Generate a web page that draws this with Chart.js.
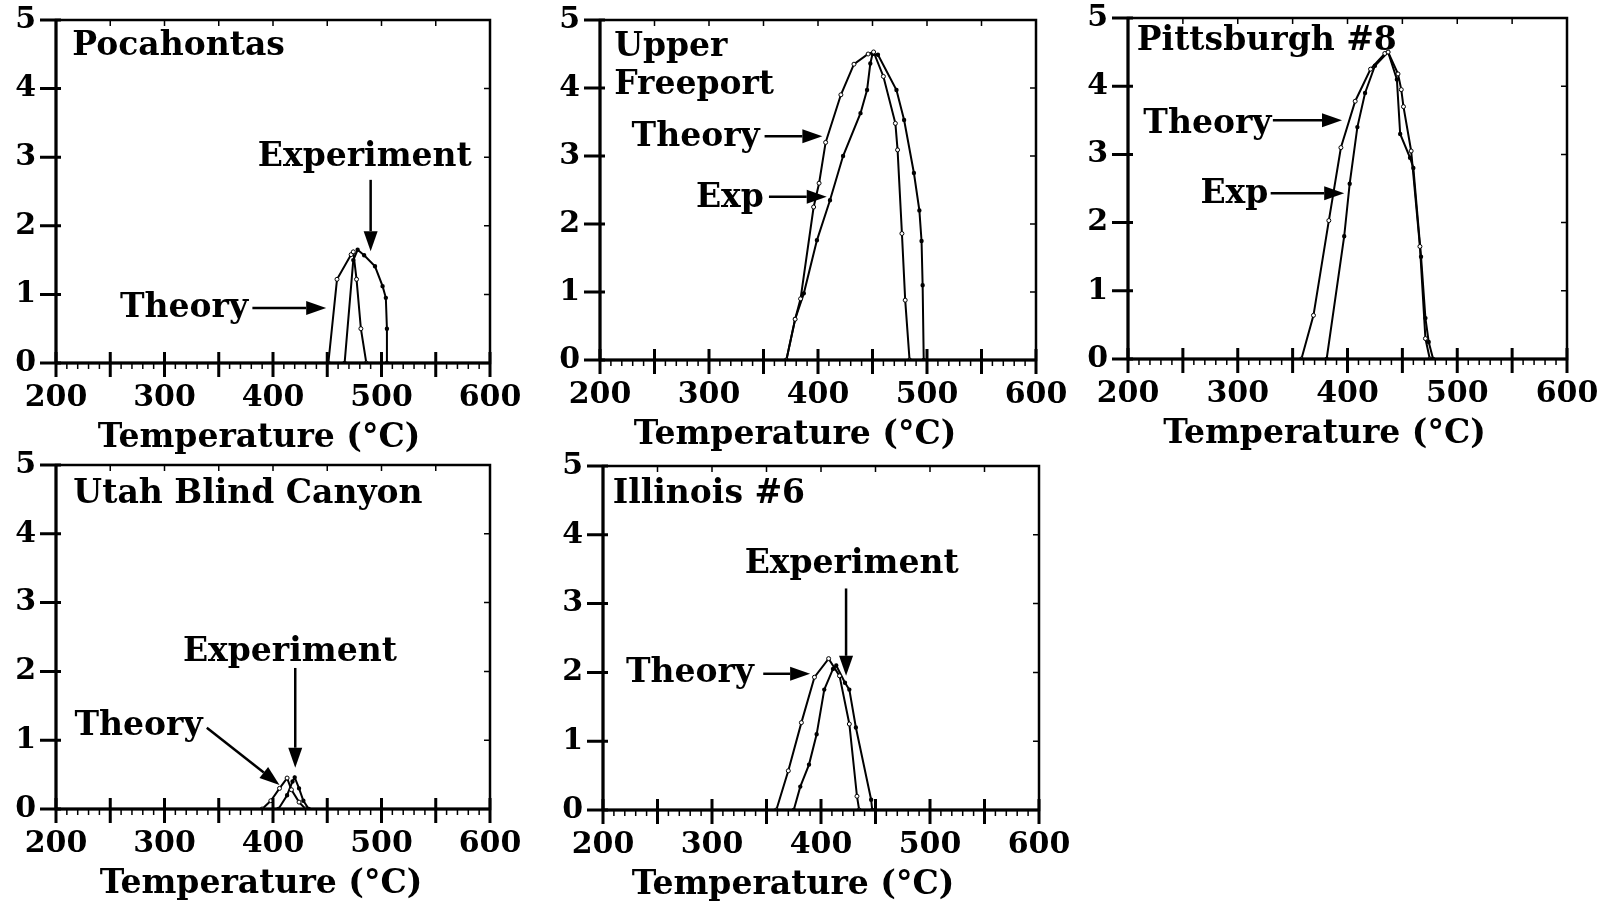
<!DOCTYPE html>
<html>
<head>
<meta charset="utf-8">
<script src="https://cdn.jsdelivr.net/npm/chart.js@4.4.1/dist/chart.umd.min.js"></script>
<style>
  body { margin: 0; background: #fff; width: 1604px; height: 908px; overflow: hidden; position: relative; }
  canvas { position: absolute; }
</style>
</head>
<body>
<script>
var xTickLabels = [200, 300, 400, 500, 600];
var yTickLabels = [0, 1, 2, 3, 4, 5];
var xTitle = 'Temperature (°C)';

// Pocahontas
var pocaTheoryT = [451, 459, 472, 474, 477, 481, 486];
var pocaTheoryY = [0, 1.22, 1.58, 1.62, 1.22, 0.5, 0];
var pocaExpT = [466, 474, 478, 484, 494, 501, 504, 505, 505];
var pocaExpY = [0, 1.5, 1.65, 1.57, 1.41, 1.12, 0.95, 0.5, 0];

// Upper Freeport
var ufTheoryT = [371, 379, 384, 396, 401, 407, 421, 433, 446, 451, 460, 471, 473, 477, 480, 484];
var ufTheoryY = [0, 0.6, 0.9, 2.25, 2.6, 3.2, 3.9, 4.35, 4.5, 4.53, 4.17, 3.48, 3.09, 1.86, 0.88, 0];
var ufExpT = [371, 379, 387, 399, 411, 423, 439, 445, 448, 450, 455, 472, 479, 488, 493, 495, 496, 497];
var ufExpY = [0, 0.6, 0.98, 1.76, 2.35, 3.0, 3.63, 3.97, 4.36, 4.5, 4.49, 3.97, 3.53, 2.75, 2.2, 1.75, 1.1, 0];

// Pittsburgh #8
var pittTheoryT = [358, 369, 383, 394, 407, 421, 434, 437, 446, 449, 451, 458, 466, 471, 475];
var pittTheoryY = [0, 0.64, 2.03, 3.1, 3.78, 4.25, 4.48, 4.5, 4.18, 3.95, 3.7, 3.05, 1.65, 0.3, 0];
var pittExpT = [381, 397, 402, 409, 416, 425, 437, 445, 448, 457, 460, 467, 471, 474, 478];
var pittExpY = [0, 1.8, 2.57, 3.4, 3.9, 4.3, 4.5, 4.1, 3.3, 2.95, 2.8, 1.5, 0.6, 0.25, 0];

// Utah Blind Canyon
var utahTheoryT = [390, 398, 406, 413, 417, 424, 430];
var utahTheoryY = [0, 0.12, 0.3, 0.45, 0.28, 0.1, 0];
var utahExpT = [405, 413, 418, 420, 424, 428, 433];
var utahExpY = [0, 0.2, 0.4, 0.46, 0.3, 0.12, 0];

// Illinois #6
var illTheoryT = [359, 370, 382, 394, 407, 417, 426, 433, 435];
var illTheoryY = [0, 0.57, 1.27, 1.93, 2.2, 1.95, 1.25, 0.2, 0];
var illExpT = [375, 381, 389, 396, 403, 411, 414, 422, 426, 432, 446, 447];
var illExpY = [0, 0.34, 0.66, 1.1, 1.75, 2.05, 2.1, 1.85, 1.75, 1.2, 0.15, 0];

function pts(t, v) {
  return t.map(function (x, i) { return { x: x, y: v[i] }; });
}

var panels = [
  { left: 56, top: 20, w: 434, h: 343, titleShift: -14, theory: pts(pocaTheoryT, pocaTheoryY), exp: pts(pocaExpT, pocaExpY),
    labels: [{ text: 'Pocahontas', x: 215, y: 4.62 }, { text: 'Experiment', x: 386, y: 3.0 }, { text: 'Theory', x: 259, y: 0.8 }],
    arrows: [[490, 2.67, 490, 1.63], [381, 0.8, 449, 0.8]] },
  { left: 600, top: 20, w: 436, h: 340, titleShift: -23, theory: pts(ufTheoryT, ufTheoryY), exp: pts(ufExpT, ufExpY),
    labels: [{ text: 'Upper', x: 213, y: 4.6 }, { text: 'Freeport', x: 213, y: 4.04 }, { text: 'Theory', x: 229, y: 3.27 }, { text: 'Exp', x: 288, y: 2.37 }],
    arrows: [[351, 3.29, 404, 3.29], [355, 2.4, 408, 2.4]] },
  { left: 1128, top: 18, w: 439, h: 341, titleShift: -23, theory: pts(pittTheoryT, pittTheoryY), exp: pts(pittExpT, pittExpY),
    labels: [{ text: 'Pittsburgh #8', x: 208, y: 4.66 }, { text: 'Theory', x: 214, y: 3.44 }, { text: 'Exp', x: 266, y: 2.41 }],
    arrows: [[332, 3.5, 395, 3.5], [330, 2.43, 397, 2.43]] },
  { left: 56, top: 465, w: 434, h: 344, titleShift: -12, theory: pts(utahTheoryT, utahTheoryY), exp: pts(utahExpT, utahExpY),
    labels: [{ text: 'Utah Blind Canyon', x: 216, y: 4.57 }, { text: 'Experiment', x: 317, y: 2.28 }, { text: 'Theory', x: 217, y: 1.2 }],
    arrows: [[420.5, 2.05, 420.5, 0.6], [339, 1.18, 406, 0.35]] },
  { left: 603, top: 466, w: 436, h: 344, titleShift: -28, theory: pts(illTheoryT, illTheoryY), exp: pts(illExpT, illExpY),
    labels: [{ text: 'Illinois #6', x: 209, y: 4.58 }, { text: 'Experiment', x: 330, y: 3.57 }, { text: 'Theory', x: 221, y: 1.98 }],
    arrows: [[423, 3.22, 423, 1.95], [347, 1.98, 390, 1.98]] }
];

var PAD_L = 60, PAD_T = 22, PAD_R = 45, PAD_B = 100;
var serif = '"DejaVu Serif", serif';

// box, tick marks on every side, x axis title
var framePlugin = {
  id: 'frame',
  afterDatasetsDraw: function (chart, args, opts) {
    var ctx = chart.ctx, a = chart.chartArea, xs = chart.scales.x, ys = chart.scales.y;
    var v, px;
    ctx.save();
    ctx.strokeStyle = '#000';
    ctx.lineWidth = 2.5;
    ctx.strokeRect(a.left, a.top, a.right - a.left, a.bottom - a.top);
    ctx.lineWidth = 3;
    ctx.beginPath();
    ctx.moveTo(a.left, a.top); ctx.lineTo(a.left, a.bottom);
    ctx.moveTo(a.left, a.bottom); ctx.lineTo(a.right, a.bottom);
    ctx.stroke();
    ctx.beginPath();
    for (v = 200; v <= 600; v += 50) {
      px = xs.getPixelForValue(v);
      ctx.moveTo(px, a.bottom - 11); ctx.lineTo(px, a.bottom + 14);
    }
    for (v = 0; v <= 5; v++) {
      px = ys.getPixelForValue(v);
      ctx.moveTo(a.left - 16, px); ctx.lineTo(a.left + 5, px);
    }
    ctx.stroke();
    ctx.lineWidth = 1.5;
    ctx.beginPath();
    for (v = 210; v < 600; v += 10) {
      if (v % 50 === 0) continue;
      px = xs.getPixelForValue(v);
      ctx.moveTo(px, a.bottom); ctx.lineTo(px, a.bottom + 6);
    }
    for (v = 250; v < 600; v += 50) {
      px = xs.getPixelForValue(v);
      ctx.moveTo(px, a.top); ctx.lineTo(px, a.top + 6);
    }
    for (v = 1; v < 5; v++) {
      px = ys.getPixelForValue(v);
      ctx.moveTo(a.right - 6, px); ctx.lineTo(a.right, px);
    }
    ctx.stroke();
    ctx.fillStyle = '#000';
    ctx.font = 'bold 33px ' + serif;
    ctx.textAlign = 'center';
    ctx.textBaseline = 'middle';
    ctx.fillText(xTitle, (a.left + a.right) / 2 + (opts.shift || 0), a.bottom + 75);
    ctx.restore();
  }
};

// coal names, curve labels and arrows
var notesPlugin = {
  id: 'notes',
  afterDraw: function (chart, args, opts) {
    var ctx = chart.ctx, xs = chart.scales.x, ys = chart.scales.y;
    ctx.save();
    ctx.fillStyle = '#000';
    ctx.strokeStyle = '#000';
    ctx.font = 'bold 33px ' + serif;
    ctx.textBaseline = 'middle';
    ctx.textAlign = 'left';
    (opts.labels || []).forEach(function (n) {
      ctx.fillText(n.text, xs.getPixelForValue(n.x), ys.getPixelForValue(n.y));
    });
    (opts.arrows || []).forEach(function (r) {
      var x1 = xs.getPixelForValue(r[0]), y1 = ys.getPixelForValue(r[1]);
      var x2 = xs.getPixelForValue(r[2]), y2 = ys.getPixelForValue(r[3]);
      var ang = Math.atan2(y2 - y1, x2 - x1), len = 20, half = 7;
      var bx = x2 - len * Math.cos(ang), by = y2 - len * Math.sin(ang);
      ctx.lineWidth = 2.5;
      ctx.beginPath();
      ctx.moveTo(x1, y1); ctx.lineTo(bx, by);
      ctx.stroke();
      ctx.beginPath();
      ctx.moveTo(x2, y2);
      ctx.lineTo(bx + half * Math.sin(ang), by - half * Math.cos(ang));
      ctx.lineTo(bx - half * Math.sin(ang), by + half * Math.cos(ang));
      ctx.closePath();
      ctx.fill();
    });
    ctx.restore();
  }
};

panels.forEach(function (p) {
  var cv = document.createElement('canvas');
  cv.width = p.w + PAD_L + PAD_R;
  cv.height = p.h + PAD_T + PAD_B;
  cv.style.left = (p.left - PAD_L) + 'px';
  cv.style.top = (p.top - PAD_T) + 'px';
  document.body.appendChild(cv);

  new Chart(cv, {
    type: 'scatter',
    data: {
      datasets: [
        {
          label: 'Theory',
          data: p.theory,
          showLine: true,
          borderColor: '#000',
          borderWidth: 2,
          pointRadius: 2,
          pointBackgroundColor: '#fff',
          pointBorderColor: '#000',
          pointBorderWidth: 1
        },
        {
          label: 'Experiment',
          data: p.exp,
          showLine: true,
          borderColor: '#000',
          borderWidth: 2,
          pointRadius: 1.2,
          pointBackgroundColor: '#000',
          pointBorderColor: '#000'
        }
      ]
    },
    options: {
      responsive: false,
      animation: false,
      layout: { padding: { top: PAD_T, right: PAD_R, left: 0, bottom: 0 } },
      plugins: {
        legend: { display: false },
        tooltip: { enabled: false },
        frame: { shift: p.titleShift },
        notes: { labels: p.labels, arrows: p.arrows }
      },
      scales: {
        x: {
          type: 'linear',
          min: 200,
          max: 600,
          afterBuildTicks: function (s) { s.ticks = xTickLabels.map(function (v) { return { value: v }; }); },
          afterFit: function (s) { s.height = PAD_B; s.paddingLeft = 0; s.paddingRight = 0; },
          grid: { display: false, drawTicks: false },
          border: { display: false },
          ticks: { padding: 17, maxRotation: 0, color: '#000', font: { family: serif, size: 30, weight: 'bold' } },
          title: { display: false }
        },
        y: {
          min: 0,
          max: 5,
          afterBuildTicks: function (s) { s.ticks = yTickLabels.map(function (v) { return { value: v }; }); },
          afterFit: function (s) { s.width = PAD_L; s.paddingTop = 0; s.paddingBottom = 0; },
          grid: { display: false, drawTicks: false },
          border: { display: false },
          ticks: { padding: 20, color: '#000', font: { family: serif, size: 30, weight: 'bold' } }
        }
      }
    },
    plugins: [framePlugin, notesPlugin]
  });
});
</script>
</body>
</html>
